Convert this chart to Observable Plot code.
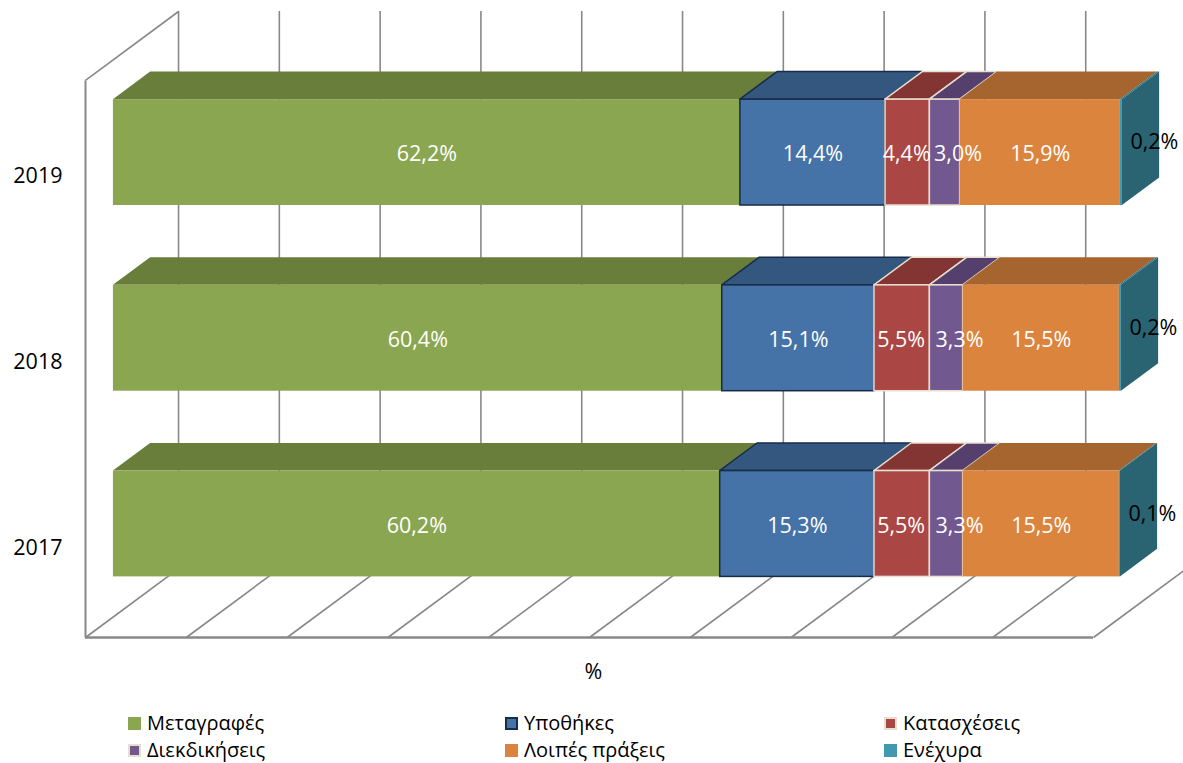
<!DOCTYPE html>
<html><head><meta charset="utf-8">
<script src="https://cdn.jsdelivr.net/npm/d3@7"></script>
<script src="https://cdn.jsdelivr.net/npm/@observablehq/plot@0.6"></script>
<style>
body{margin:0;background:#fff;font-family:"Open Sans",sans-serif;}
#wrap{position:relative;width:1183px;height:763px;overflow:hidden;}
#wrap svg{position:absolute;left:0;top:0;}
.leg{position:absolute;display:flex;align-items:center;font-size:20px;color:#000;white-space:nowrap;line-height:1;}
.sw{width:13px;height:13px;margin-right:6px;box-sizing:border-box;}
</style></head><body><div id="wrap"></div>
<script>
// ---- data ----
const years = ["2017", "2018", "2019"];
const categories = ["Μεταγραφές", "Υποθήκες", "Κατασχέσεις", "Διεκδικήσεις", "Λοιπές πράξεις", "Ενέχυρα"];
const values2017 = [60.2, 15.3, 5.5, 3.3, 15.5, 0.1];
const values2018 = [60.4, 15.1, 5.5, 3.3, 15.5, 0.2];
const values2019 = [62.2, 14.4, 4.4, 3.0, 15.9, 0.2];
const xTicks = [0, 10, 20, 30, 40, 50, 60, 70, 80, 90, 100];
const axisTitle = "%";

// ---- styles ----
const frontColors = ["#8BA650", "#4572A7", "#AA4643", "#71588F", "#DB843D", "#4198AF"];
const topColors   = ["#687E3A", "#345780", "#833534", "#553F6D", "#A6642F", "#317588"];
const sideColor   = "#2A6371";
const edgeColors  = [null, "#172C47", "#E6DECF", "#E6DECF", null, null];
const legendBorder = [null, "#172C47", "#E6DECF", "#E6DECF", null, null];
const labelShift  = [0, 0, -1, 13, 0, 0];   // label nudges (px) to avoid collisions
const gridColor = "#888888";
const labelSize = 21.5;

// 3D geometry (in scale units)
const DX = 9.23, DY = 0.371;     // full depth vector
const F = 0.3, B = 0.7;          // bar front / back depth fraction
const HALF = 0.285;              // half bar height (band units)

const allValues = [values2017, values2018, values2019];
const segs = [];
allValues.forEach((vals, yi) => {
  const ends = d3.cumsum(vals);
  vals.forEach((v, ci) => {
    segs.push({year: years[yi], yi, ci, value: v, x1: ends[ci] - v, x2: ends[ci],
      yb: yi + 0.5 - HALF, yt: yi + 0.5 + HALF});
  });
});

const fmt = v => v.toFixed(1).replace(".", ",") + "%";

const marks = [];
// back wall grid lines
marks.push(Plot.ruleX(xTicks, {x: d => d + DX, y1: DY, y2: years.length + DY, stroke: gridColor, strokeWidth: 1.6}));
// floor diagonals
marks.push(Plot.link(xTicks, {x1: d => d, y1: 0, x2: d => d + DX, y2: DY, stroke: gridColor, strokeWidth: 1.6}));
// floor front edge
marks.push(Plot.ruleY([0], {x1: xTicks[0], x2: xTicks[xTicks.length - 1], stroke: gridColor, strokeWidth: 2.5}));
// left wall
marks.push(Plot.link([0], {x1: 0, y1: 0, x2: 0, y2: years.length, stroke: gridColor, strokeWidth: 2}));
marks.push(Plot.link([0], {x1: 0, y1: years.length, x2: DX, y2: years.length + DY, stroke: gridColor, strokeWidth: 1.6}));

// bars
years.forEach((yr, yi) => {
  const rowSegs = segs.filter(s => s.yi === yi);
  rowSegs.forEach((s, k) => {
    const ci = s.ci;
    const edge = edgeColors[ci];
    const strokeOpts = edge ? {stroke: edge, strokeWidth: 1.5} : {};
    // top face
    const topPts = [
      {y: s.yt + F * DY, x1: s.x1 + F * DX, x2: s.x2 + F * DX},
      {y: s.yt + B * DY, x1: s.x1 + B * DX, x2: s.x2 + B * DX}
    ];
    marks.push(Plot.areaX(topPts, {y: "y", x1: "x1", x2: "x2", fill: topColors[ci], ...strokeOpts}));
    // front face
    marks.push(Plot.rect([s], {x1: d => d.x1 + F * DX, x2: d => d.x2 + F * DX,
      y1: d => d.yb + F * DY, y2: d => d.yt + F * DY, fill: frontColors[ci], ...strokeOpts}));
    // right side face of last segment
    if (k === rowSegs.length - 1) {
      const sidePts = [
        {x: s.x2 + F * DX, y1: s.yb + F * DY, y2: s.yt + F * DY},
        {x: s.x2 + B * DX, y1: s.yb + B * DY, y2: s.yt + B * DY}
      ];
      marks.push(Plot.areaY(sidePts, {x: "x", y1: "y1", y2: "y2", fill: sideColor}));
    }
  });
});

// value labels inside bars (one mark per category so each can carry its own nudge)
const lastIdx = categories.length - 1;
categories.forEach((c, ci) => {
  if (ci === lastIdx) return;
  marks.push(Plot.text(segs.filter(s => s.ci === ci), {
    x: d => (d.x1 + d.x2) / 2 + F * DX, y: d => (d.yb + d.yt) / 2 + F * DY,
    text: d => fmt(d.value), fill: "white", fontSize: labelSize, dy: 2, dx: labelShift[ci]
  }));
});
// labels for the thin last segment
marks.push(Plot.text(segs.filter(s => s.ci === lastIdx), {
  x: d => d.x2 + F * DX, y: d => (d.yb + d.yt) / 2 + F * DY,
  text: d => fmt(d.value), fill: "black", fontSize: labelSize, textAnchor: "start", dx: 8, dy: -10
}));
// year labels
marks.push(Plot.text(years, {x: 0, y: (d, i) => i + 0.5, text: d => d, textAnchor: "end",
  dx: -23, dy: 3, fontSize: labelSize, fill: "black"}));
// axis title
marks.push(Plot.text([axisTitle], {x: 50, y: 0, text: d => d, dx: 4, dy: 35, fontSize: labelSize, fill: "black"}));

const chart = Plot.plot({
  width: 1183,
  height: 700,
  marginLeft: 85,
  marginRight: 0,
  marginTop: 0,
  marginBottom: 63,
  style: {fontFamily: "'Open Sans', sans-serif", background: "white", overflow: "visible"},
  x: {domain: [0, 108.93], axis: null},
  y: {domain: [0, 3.4303], axis: null},
  marks
});

const wrap = document.getElementById("wrap");
wrap.appendChild(chart);

// legend
const legCols = [128, 505, 884];
const legRows = [723, 750];
categories.forEach((c, i) => {
  const item = document.createElement("div");
  item.className = "leg";
  item.style.left = legCols[i % 3] + "px";
  item.style.top = (legRows[Math.floor(i / 3)] - 12) + "px";
  item.style.height = "24px";
  const sw = document.createElement("span");
  sw.className = "sw";
  sw.style.background = frontColors[i];
  if (legendBorder[i]) sw.style.border = "2px solid " + legendBorder[i];
  const tx = document.createElement("span");
  tx.textContent = c;
  item.appendChild(sw);
  item.appendChild(tx);
  wrap.appendChild(item);
});
</script>
</body></html>
